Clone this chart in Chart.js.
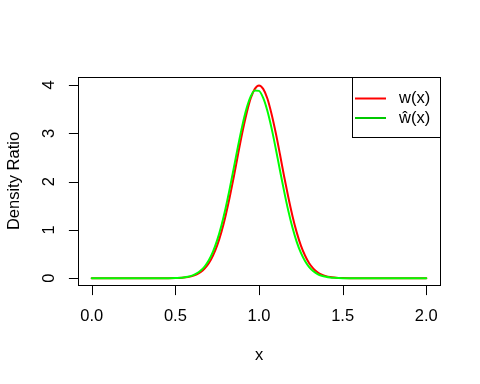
<!DOCTYPE html>
<html>
<head>
<meta charset="utf-8">
<script src="https://cdn.jsdelivr.net/npm/chart.js@4/dist/chart.umd.min.js"></script>
<style>html,body{margin:0;padding:0;background:#fff}canvas{display:block}</style>
</head>
<body>
<canvas id="c" width="480" height="384"></canvas>
<script>
// ---- data ----
const xValues = [0, 0.1, 0.2, 0.3, 0.4, 0.45, 0.5, 0.525, 0.55, 0.575, 0.6, 0.625, 0.65, 0.675, 0.7, 0.725, 0.75, 0.775, 0.8, 0.825, 0.85, 0.875, 0.9, 0.925, 0.95, 0.975, 1.0,
  1.025, 1.05, 1.075, 1.1, 1.125, 1.15, 1.175, 1.2, 1.225, 1.25, 1.275, 1.3, 1.325, 1.35, 1.375, 1.4, 1.425, 1.45, 1.475, 1.5, 1.55, 1.6, 1.7, 1.8, 1.9, 2.0];
const wValues = [0, 0, 0, 0, 0, 0.0008, 0.0034, 0.007, 0.013, 0.024, 0.043, 0.075, 0.125, 0.20, 0.31, 0.47, 0.68, 0.954, 1.29, 1.68, 2.11, 2.57, 3.01, 3.40, 3.72, 3.92, 3.99,
  3.92, 3.72, 3.40, 3.01, 2.57, 2.11, 1.68, 1.29, 0.954, 0.68, 0.47, 0.31, 0.20, 0.125, 0.075, 0.043, 0.024, 0.013, 0.007, 0.0034, 0.0008, 0, 0, 0, 0, 0];
const wHatValues = [0, 0, 0, 0, 0, 0.001, 0.004, 0.009, 0.017, 0.031, 0.054, 0.093, 0.153, 0.243, 0.373, 0.552, 0.789, 1.087, 1.445, 1.854, 2.294, 2.739, 3.154, 3.505, 3.758, 3.886, 3.878,
  3.733, 3.467, 3.107, 2.686, 2.240, 1.803, 1.399, 1.048, 0.757, 0.528, 0.355, 0.230, 0.144, 0.087, 0.051, 0.029, 0.015, 0.008, 0.004, 0.002, 0.0004, 0, 0, 0, 0, 0];
const xTicks = [0, 0.5, 1, 1.5, 2];
const xTickLabels = ['0.0', '0.5', '1.0', '1.5', '2.0'];
const yTicks = [0, 1, 2, 3, 4];
const yTickLabels = ['0', '1', '2', '3', '4'];
const seriesLabels = ['w(x)', 'ŵ(x)'];
const xTitle = 'x';
const yTitle = 'Density Ratio';

const FONT = '16.5px "Liberation Sans", Arial, sans-serif';
const curveColors = ['#ff0000', '#00ff00'];
const legendColors = ['#ff0000', '#00c800'];

const toPoints = (xs, ys) => xs.map((x, i) => ({x: x, y: ys[i]}));

const rAxes = {
  id: 'rAxes',
  afterDraw(chart) {
    const ctx = chart.ctx;
    const a = chart.chartArea;
    const xs = chart.scales.x, ys = chart.scales.y;
    ctx.save();
    ctx.strokeStyle = '#000';
    ctx.fillStyle = '#000';
    ctx.lineWidth = 1;
    // box
    ctx.strokeRect(Math.round(a.left) + 0.5, Math.round(a.top) + 0.5, Math.round(a.right - a.left), Math.round(a.bottom - a.top));
    const bottom = Math.round(a.bottom) + 0.5;
    const left = Math.round(a.left) + 0.5;
    // x axis
    ctx.beginPath();
    ctx.moveTo(Math.round(xs.getPixelForValue(xTicks[0])) + 0.5, bottom);
    ctx.lineTo(Math.round(xs.getPixelForValue(xTicks[xTicks.length - 1])) + 0.5, bottom);
    xTicks.forEach(v => {
      const px = Math.round(xs.getPixelForValue(v)) + 0.5;
      ctx.moveTo(px, bottom);
      ctx.lineTo(px, bottom + 9.6);
    });
    // y axis
    ctx.moveTo(left, Math.round(ys.getPixelForValue(yTicks[0])) + 0.5);
    ctx.lineTo(left, Math.round(ys.getPixelForValue(yTicks[yTicks.length - 1])) + 0.5);
    yTicks.forEach(v => {
      const py = Math.round(ys.getPixelForValue(v)) + 0.5;
      ctx.moveTo(left, py);
      ctx.lineTo(left - 9.6, py);
    });
    ctx.stroke();
    ctx.font = FONT;
    ctx.textAlign = 'center';
    ctx.textBaseline = 'alphabetic';
    xTicks.forEach((v, i) => {
      ctx.fillText(xTickLabels[i], xs.getPixelForValue(v), a.bottom + 36);
    });
    ctx.fillText(xTitle, (a.left + a.right) / 2, a.bottom + 75);
    yTicks.forEach((v, i) => {
      ctx.save();
      ctx.translate(a.left - 24, ys.getPixelForValue(v));
      ctx.rotate(-Math.PI / 2);
      ctx.fillText(yTickLabels[i], 0, 0);
      ctx.restore();
    });
    ctx.save();
    ctx.translate(a.left - 59, (a.top + a.bottom) / 2);
    ctx.rotate(-Math.PI / 2);
    ctx.fillText(yTitle, 0, 0);
    ctx.restore();
    // legend
    const lx = 352.5, ly = Math.round(a.top) + 0.5, lw = Math.round(a.right) + 0.5 - 352.5, lh = 60;
    ctx.fillStyle = '#fff';
    ctx.fillRect(lx, ly, lw, lh);
    ctx.strokeStyle = '#000';
    ctx.strokeRect(lx, ly, lw, lh);
    ctx.lineWidth = 2;
    seriesLabels.forEach((lab, i) => {
      const yy = ly + 21 + i * 19.5;
      ctx.strokeStyle = legendColors[i];
      ctx.beginPath();
      ctx.moveTo(355, yy);
      ctx.lineTo(386, yy);
      ctx.stroke();
      ctx.fillStyle = '#000';
      ctx.textAlign = 'left';
      ctx.textBaseline = 'middle';
      ctx.fillText(lab, 399, yy);
    });
    ctx.restore();
  }
};

new Chart(document.getElementById('c'), {
  type: 'line',
  data: {
    datasets: [
      {label: seriesLabels[0], data: toPoints(xValues, wValues), borderColor: curveColors[0], borderWidth: 2, order: 2},
      {label: seriesLabels[1], data: toPoints(xValues, wHatValues), borderColor: curveColors[1], borderWidth: 2, order: 1}
    ]
  },
  options: {
    responsive: false,
    animation: false,
    devicePixelRatio: 1,
    layout: {padding: {left: 78, top: 77, right: 40, bottom: 99}},
    elements: {
      point: {radius: 0},
      line: {cubicInterpolationMode: 'monotone', fill: false, borderCapStyle: 'round', borderJoinStyle: 'round'}
    },
    scales: {
      x: {type: 'linear', min: -0.082, max: 2.082, display: false},
      y: {type: 'linear', min: -0.14, max: 4.165, display: false}
    },
    plugins: {legend: {display: false}, tooltip: {enabled: false}}
  },
  plugins: [rAxes]
});
</script>
</body>
</html>
